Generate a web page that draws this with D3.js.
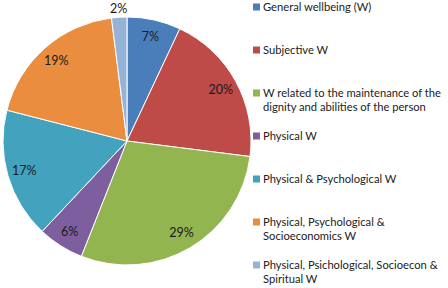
<!DOCTYPE html>
<html lang="en">
<head>
<meta charset="UTF-8">
<title>Wellbeing pie</title>
<script src="https://d3js.org/d3.v7.min.js"></script>
<style>
    body { margin: 0; background: #fff; font-family: Lato, sans-serif; }
    .slice { stroke: #fff; stroke-width: 1; }
    .pct { font-size: 12.5px; fill: #1a1a1a; }
    .legend-text { font-size: 11.2px; fill: #222; }
</style>
</head>
<body>
<svg id="chart" width="448" height="288"></svg>
<script>
    // Categories and shares (%) read clockwise from 12 o'clock
    const categories = [
        "General wellbeing (W)",
        "Subjective W",
        "W related to the maintenance of the|dignity and abilities of the person",
        "Physical W",
        "Physical & Psychological W",
        "Physical, Psychological &|Socioeconomics W",
        "Physical, Psichological, Socioecon &|Spiritual W"
    ];
    const shares = [7, 20, 29, 6, 17, 19, 2];
    const colors = ["#4A7EBB", "#BE4B48", "#93B550", "#7D5FA0", "#43A3BF", "#EA8D3E", "#95B3D7"];

    const svg = d3.select("#chart");
    const cx = 127, cy = 141, radius = 124;

    const pie = d3.pie().sort(null).value(d => d);
    const arcs = pie(shares);
    const arc = d3.arc().innerRadius(0).outerRadius(radius);
    const labelArc = d3.arc().innerRadius(107).outerRadius(107);
    const outerArc = d3.arc().innerRadius(133).outerRadius(133);

    const g = svg.append("g").attr("transform", `translate(${cx},${cy})`);

    g.selectAll(".slice")
        .data(arcs)
        .enter()
        .append("path")
        .attr("class", "slice")
        .attr("d", arc)
        .attr("fill", (d, i) => colors[i]);

    // Percent labels; tiny slices sit outside the pie
    g.selectAll(".pct")
        .data(arcs)
        .enter()
        .append("text")
        .attr("class", "pct")
        .attr("transform", d => `translate(${(d.data < 5 ? outerArc : labelArc).centroid(d)})`)
        .attr("text-anchor", "middle")
        .attr("dy", "0.35em")
        .text(d => d.data + "%");

    // ---------------- Legend ----------------
    const legendY = d3.scaleLinear().domain([0, 1]).range([7, 50]);

    const item = svg.selectAll(".legend")
        .data(categories)
        .enter()
        .append("g")
        .attr("class", "legend")
        .attr("transform", (d, i) => `translate(253,${legendY(i)})`);

    item.append("rect")
        .attr("x", 0)
        .attr("y", -3.5)
        .attr("width", 7)
        .attr("height", 7)
        .attr("fill", (d, i) => colors[i]);

    item.append("text")
        .attr("class", "legend-text")
        .attr("x", 10)
        .attr("y", 0)
        .selectAll("tspan")
        .data(d => d.split("|"))
        .enter()
        .append("tspan")
        .attr("x", 10)
        .attr("dy", (d, i) => i === 0 ? "0.35em" : "14px")
        .text(d => d);
</script>
</body>
</html>
